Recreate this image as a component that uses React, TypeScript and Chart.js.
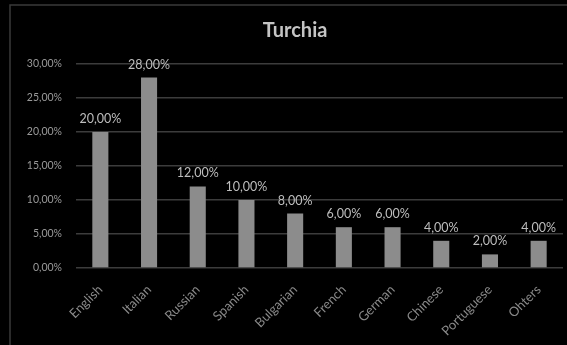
import React, { useEffect, useRef } from "react";
import { Chart, registerables } from "chart.js";

Chart.register(...registerables);

const titleText = "Turchia";
const categories = ["English", "Italian", "Russian", "Spanish", "Bulgarian", "French", "German", "Chinese", "Portuguese", "Ohters"];
const shares = [20, 28, 12, 10, 8, 6, 6, 4, 2, 4];
const yMax = 30;
const yStep = 5;

const fmt = (v: number) => v.toFixed(2).replace(".", ",") + "%";
const FONT = "Lato, 'Open Sans', sans-serif";

const framePlugin = {
  id: "frame",
  beforeDraw(chart: any) {
    const { ctx, width, height } = chart;
    ctx.save();
    ctx.fillStyle = "#000000";
    ctx.fillRect(0, 0, width, height);
    ctx.strokeStyle = "#3a3a3a";
    ctx.lineWidth = 1.5;
    ctx.beginPath();
    ctx.moveTo(10, height);
    ctx.lineTo(10, 5);
    ctx.lineTo(width, 5);
    ctx.stroke();
    ctx.fillStyle = "#c4c4c4";
    ctx.font = `bold 20px ${FONT}`;
    ctx.textAlign = "center";
    ctx.textBaseline = "middle";
    ctx.fillText(titleText, 295, 31);
    ctx.restore();
  },
};

const valueLabels = {
  id: "valueLabels",
  afterDatasetsDraw(chart: any) {
    const { ctx } = chart;
    const meta = chart.getDatasetMeta(0);
    ctx.save();
    ctx.fillStyle = "#bdbdbd";
    ctx.font = `12.5px ${FONT}`;
    ctx.textAlign = "center";
    ctx.textBaseline = "middle";
    meta.data.forEach((bar: any, i: number) => {
      ctx.fillText(fmt(shares[i]), bar.x, bar.y - 13);
    });
    ctx.restore();
  },
};

export default function App() {
  const ref = useRef<HTMLCanvasElement | null>(null);
  useEffect(() => {
    if (!ref.current) return;
    const chart = new Chart(ref.current, {
      type: "bar",
      data: {
        labels: categories,
        datasets: [
          {
            data: shares,
            backgroundColor: "#8c8c8c",
            borderWidth: 0,
            categoryPercentage: 1,
            barPercentage: 0.33,
          },
        ],
      },
      options: {
        responsive: false,
        animation: false,
        devicePixelRatio: 1,
        layout: { padding: { left: 10, right: 4, top: 64, bottom: 0 } },
        plugins: {
          legend: { display: false },
          title: { display: false },
          tooltip: { enabled: false },
        },
        scales: {
          x: {
            grid: { display: false, drawTicks: false },
            border: { display: false },
            ticks: {
              color: "#8a8a8a",
              font: { family: FONT, size: 13 },
              minRotation: 45,
              maxRotation: 45,
              padding: 14,
              autoSkip: false,
            },
            afterFit(scale: any) {
              scale.height = 77;
            },
          },
          y: {
            min: 0,
            max: yMax,
            grid: { color: "#3c3c3c", lineWidth: 1.5, drawTicks: false },
            border: { display: false },
            ticks: {
              stepSize: yStep,
              color: "#9a9a9a",
              font: { family: FONT, size: 10.5 },
              padding: 14,
              callback: (v: any) => fmt(Number(v)),
            },
            afterFit(scale: any) {
              scale.width = 66;
            },
          },
        },
      },
      plugins: [framePlugin, valueLabels],
    });
    return () => chart.destroy();
  }, []);
  return (
    <div style={{ position: "absolute", left: 0, top: 0, width: 567, height: 345, background: "#000" }}>
      <canvas ref={ref} width={567} height={345} style={{ display: "block" }} />
    </div>
  );
}
